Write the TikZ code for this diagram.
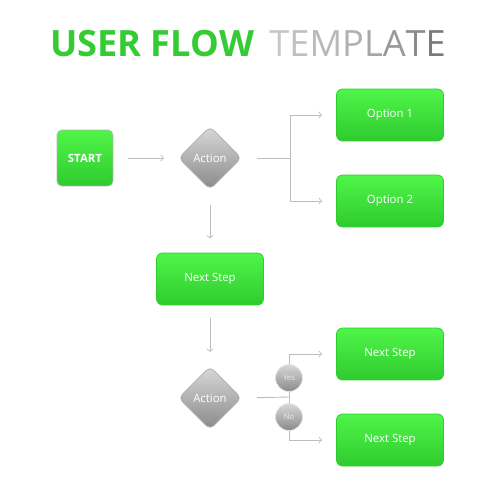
\documentclass[tikz,border=0pt]{standalone}
\usepackage{fontspec}
\setmainfont{Open Sans}
\usetikzlibrary{shapes.geometric}
\definecolor{grntop}{HTML}{4FF548}
\definecolor{grnbot}{HTML}{2FCB2F}
\definecolor{grytop}{HTML}{D8D8D8}
\definecolor{grybot}{HTML}{8A8A8A}
\definecolor{ttlgreen}{HTML}{33CC33}
\definecolor{wire}{HTML}{BDBDBD}

\begin{document}
\begin{tikzpicture}[x=0.02cm,y=-0.02cm,
    txt/.style={text=white,font=\fontsize{6.5}{7}\selectfont},
    box/.style={txt,rectangle,rounded corners=0.12cm,draw=grnbot,top color=grntop,bottom color=grnbot,
      minimum width=2.14cm,minimum height=1.04cm},
    act/.style={txt,diamond,aspect=1,rounded corners=0.1cm,draw=grybot!70,top color=grytop,bottom color=grybot,
      minimum size=1.26cm,inner sep=0pt},
    ans/.style={circle,draw=white!80!gray,top color=grytop,bottom color=grybot,minimum size=0.54cm,inner sep=0pt,
      text=white!85!gray,font=\fontsize{4.4}{5}\selectfont},
    wire/.style={draw=wire,line width=0.5pt},
    arr/.style={wire,->,shorten >=0.28cm}]
    \useasboundingbox (0,0) rectangle (500,500) ;
    % title
    \node (ttl) at (248,57) [anchor=base,font=\fontsize{20.6}{23}\selectfont]
      {\textcolor{ttlgreen}{\bfseries USER FLOW}\hspace{0.12cm} \textcolor{black!22}{T}\textcolor{black!25}{E}\textcolor{black!28}{M}\textcolor{black!31}{P}\textcolor{black!35}{L}\textcolor{black!40}{A}\textcolor{black!45}{T}\textcolor{black!52}{E}} ;
    % nodes
    \node (start) at (85,158) [box,draw=black!30,minimum width=1.12cm,minimum height=1.12cm,rounded corners=0.1cm,font=\fontsize{6.5}{7}\selectfont\bfseries] {START} ;
    \node (act1) at (210,158) [act] {Action} ;
    \node (opt1) at (390,115) [box] {Option 1} ;
    \node (opt2) at (390,201) [box] {Option 2} ;
    \node (next) at (210,279) [box] {Next Step} ;
    \node (act2) at (210,398) [act] {Action} ;
    \node (yes) at (390,354) [box] {Next Step} ;
    \node (no) at (390,440) [box] {Next Step} ;
    \coordinate (j1) at (290,158) ;
    \coordinate (j2) at (289,397) ;
    % connectors
    \draw[arr,shorten <=0.3cm] (start) -- (act1) ;
    \draw[wire,shorten <=0.3cm] (act1) -- (j1) ;
    \draw[arr] (j1) |- (opt1) ;
    \draw[arr] (j1) |- (opt2) ;
    \draw[arr,shorten <=0.3cm] (act1) -- (next) ;
    \draw[arr,shorten <=0.26cm] (next) -- (act2) ;
    \draw[wire,shorten <=0.3cm] (act2.east) -- (j2) ;
    \draw[arr] (j2) |- (yes) ;
    \draw[arr] (j2) |- (no) ;
    \node (y) at (289,378) [ans] {Yes} ;
    \node (n) at (289,417) [ans] {No} ;
  \end{tikzpicture}
\end{document}
